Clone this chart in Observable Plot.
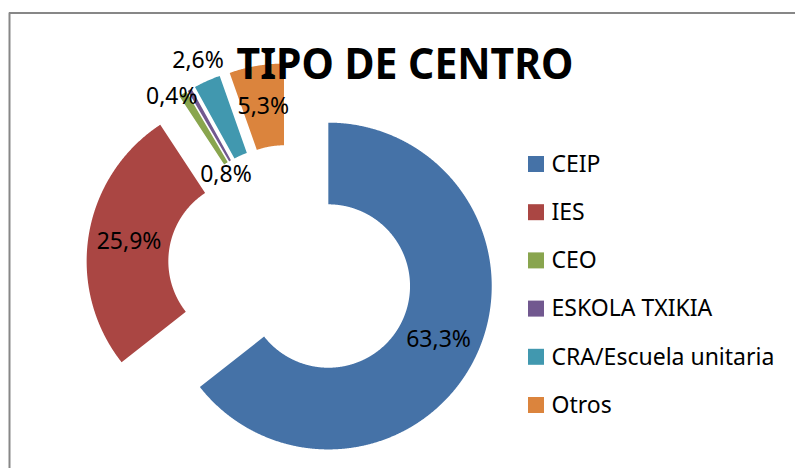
<!DOCTYPE html>
<html>
<head>
<meta charset="utf-8">
<script src="https://cdn.jsdelivr.net/npm/d3@7"></script>
<script src="https://cdn.jsdelivr.net/npm/@observablehq/plot@0.6"></script>
<style>
  html, body { margin: 0; padding: 0; background: #fff; }
  #chart { width: 795px; height: 468px; overflow: hidden; }
  svg { font-family: "Noto Sans", sans-serif; }
</style>
</head>
<body>
<div id="chart"></div>
<script>
// ---- data ----
const categories = ["CEIP", "IES", "CEO", "ESKOLA TXIKIA", "CRA/Escuela unitaria", "Otros"];
const values = [63.3, 25.9, 0.8, 0.4, 2.6, 5.3];
const valueLabels = ["63,3%", "25,9%", "0,8%", "0,4%", "2,6%", "5,3%"];
const colors = ["#4572A7", "#AA4643", "#89A54E", "#71588F", "#4198AF", "#DB843D"];
const labelModes = ["inside", "inside", "innerBelow", "outerSide", "outside", "inside"];
const title = "TIPO DE CENTRO";

// ---- layout (pixels) ----
const W = 795, H = 468;
const cx = 290.5, cy = 267.4;       // pie centre
const R = 163.4, r = R * 0.5;       // outer / inner radius (50% hole)
const explode = 41.5;               // explosion distance

const arcs = d3.pie().sort(null).startAngle(0).endAngle(2 * Math.PI)(values);

// slice polygons
const slicePts = [];
const labelRows = [];
arcs.forEach((a, i) => {
  const mid = (a.startAngle + a.endAngle) / 2;
  const ox = cx + explode * Math.sin(mid);
  const oy = cy - explode * Math.cos(mid);
  const span = a.endAngle - a.startAngle;
  const n = Math.max(2, Math.ceil(span / (0.25 * Math.PI / 180)));
  for (let k = 0; k <= n; k++) {
    const t = a.startAngle + span * k / n;
    slicePts.push({key: categories[i], x: ox + R * Math.sin(t), y: oy - R * Math.cos(t)});
  }
  for (let k = n; k >= 0; k--) {
    const t = a.startAngle + span * k / n;
    slicePts.push({key: categories[i], x: ox + r * Math.sin(t), y: oy - r * Math.cos(t)});
  }
  const mode = labelModes[i];
  let lx, ly;
  if (mode === "inside") {
    const rm = (R + r) / 2;
    lx = ox + rm * Math.sin(mid); ly = oy - rm * Math.cos(mid);
  } else if (mode === "outside") {
    const rm = R + 22;
    lx = ox + rm * Math.sin(mid); ly = oy - rm * Math.cos(mid);
  } else if (mode === "outerSide") {
    lx = ox + R * Math.sin(mid) + 8; ly = oy - R * Math.cos(mid) + 7;
  } else {
    lx = ox + r * Math.sin(mid); ly = oy - r * Math.cos(mid) + 2;
  }
  labelRows.push({label: valueLabels[i], mode, x: lx, y: ly});
});

// legend rows
const legendRows = categories.map((c, i) => ({key: c, y: 164 + i * 48.2}));

const byMode = m => labelRows.filter(d => d.mode === m);
const txt = {fontSize: 23, fill: "#000"};

const chart = Plot.plot({
  width: W, height: H,
  margin: 0,
  x: {domain: [0, W], axis: null},
  y: {domain: [0, H], reverse: true, axis: null},
  color: {domain: categories, range: colors},
  marks: [
    // chart border (top + left visible)
    Plot.ruleY([12.5], {x1: 9, x2: W, stroke: "#878787", strokeWidth: 2}),
    Plot.ruleX([9], {y1: 12.5, y2: H, stroke: "#878787", strokeWidth: 2}),
    // slices
    Plot.line(slicePts, {x: "x", y: "y", z: "key", fill: "key", stroke: "none", curve: "linear-closed"}),
    // value labels
    Plot.text(byMode("inside").concat(byMode("outside")), {x: "x", y: "y", text: "label", textAnchor: "middle", lineAnchor: "middle", ...txt}),
    Plot.text(byMode("outerSide"), {x: "x", y: "y", text: "label", textAnchor: "end", lineAnchor: "middle", ...txt}),
    Plot.text(byMode("innerBelow"), {x: "x", y: "y", text: "label", textAnchor: "middle", lineAnchor: "top", ...txt}),
    // legend
    Plot.rect(legendRows, {x1: 528, x2: 544, y1: d => d.y - 8, y2: d => d.y + 8, fill: "key"}),
    Plot.text(legendRows, {x: 551, y: "y", text: "key", textAnchor: "start", lineAnchor: "middle", ...txt}),
    // title
    Plot.text([title], {x: 236, y: 78, text: d => d, textAnchor: "start", lineAnchor: "bottom", fontSize: 43, fontWeight: "bold", fill: "#000"})
  ]
});

document.getElementById("chart").appendChild(chart);
chart.querySelectorAll("text").forEach(t => {
  if (t.textContent === title) {
    t.setAttribute("textLength", "337");
    t.setAttribute("lengthAdjust", "spacingAndGlyphs");
  }
});
</script>
</body>
</html>
